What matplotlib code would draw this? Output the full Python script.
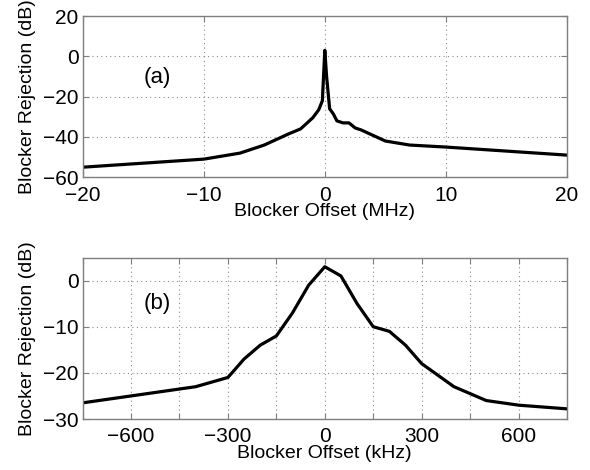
import matplotlib
matplotlib.use("Agg")
import matplotlib.pyplot as plt

plt.rcParams["font.family"] = ["Liberation Sans", "DejaVu Sans"]

# panel (a): wide offset sweep, MHz
offset_mhz = [-20, -10, -7, -5, -3, -2, -1, -0.5, -0.2, 0, 0.15, 0.4, 0.7, 1, 1.5, 2, 2.5, 3, 5, 7, 10, 20]
reject_a = [-55, -51, -48, -44, -38.5, -36, -30.5, -26.5, -22, 3, -10, -26, -28.5, -32, -33, -33, -35.5, -36.5, -42, -44, -45, -49]

# panel (b): close-in sweep, kHz
offset_khz = [-750, -400, -300, -250, -200, -150, -100, -50, 0, 50, 100, 150, 200, 250, 300, 400, 500, 600, 750]
reject_b = [-26.5, -23, -21, -17, -14, -12, -7, -1, 3, 1, -5, -10, -11, -14, -18, -23, -26, -27, -27.8]

xticks_a = [-20, -10, 0, 10, 20]
yticks_a = [-60, -40, -20, 0, 20]
xticks_b = [-750, -600, -450, -300, -150, 0, 150, 300, 450, 600, 750]
xlabels_b = ["", "\u2212600", "", "\u2212300", "", "0", "", "300", "", "600", ""]
yticks_b = [-30, -20, -10, 0]

TICK_FS = 15
LABEL_FS = 14
SPINE = "#7f7f7f"


def style_axes(ax):
    for s in ax.spines.values():
        s.set_color(SPINE)
        s.set_linewidth(1.0)
    ax.tick_params(direction="in", length=4, color=SPINE, labelsize=TICK_FS,
                   top=True, right=True)
    ax.tick_params(axis="x", pad=6)
    ax.tick_params(axis="y", pad=3)
    ax.grid(True, linestyle=(0, (1, 3)), color="#8c8c8c", linewidth=0.8)


fig = plt.figure(figsize=(5.9, 4.7), dpi=100)
ax1 = fig.add_axes([0.140, 0.6228, 0.821, 0.343])
ax2 = fig.add_axes([0.140, 0.1085, 0.821, 0.3436])

ax1.plot(offset_mhz, reject_a, color="black", linewidth=2.3)
ax1.set_xlim(-20, 20)
ax1.set_ylim(-60, 20)
ax1.set_xticks(xticks_a)
ax1.set_yticks(yticks_a)
ax1.set_xlabel("Blocker Offset (MHz)", fontsize=LABEL_FS, labelpad=-1)
ax1.set_ylabel("Blocker Rejection (dB)", fontsize=LABEL_FS, labelpad=5)
ax1.text(-15, -10.5, "(a)", fontsize=16, va="center", ha="left")
style_axes(ax1)

ax2.plot(offset_khz, reject_b, color="black", linewidth=2.3)
ax2.set_xlim(-750, 750)
ax2.set_ylim(-30, 5)
ax2.set_xticks(xticks_b)
ax2.set_xticklabels(xlabels_b)
ax2.set_yticks(yticks_b)
ax2.set_xlabel("Blocker Offset (kHz)", fontsize=LABEL_FS, labelpad=-1)
ax2.set_ylabel("Blocker Rejection (dB)", fontsize=LABEL_FS, labelpad=5)
ax2.text(-562, -5, "(b)", fontsize=16, va="center", ha="left")
style_axes(ax2)

fig.savefig("out.png", dpi=100)
